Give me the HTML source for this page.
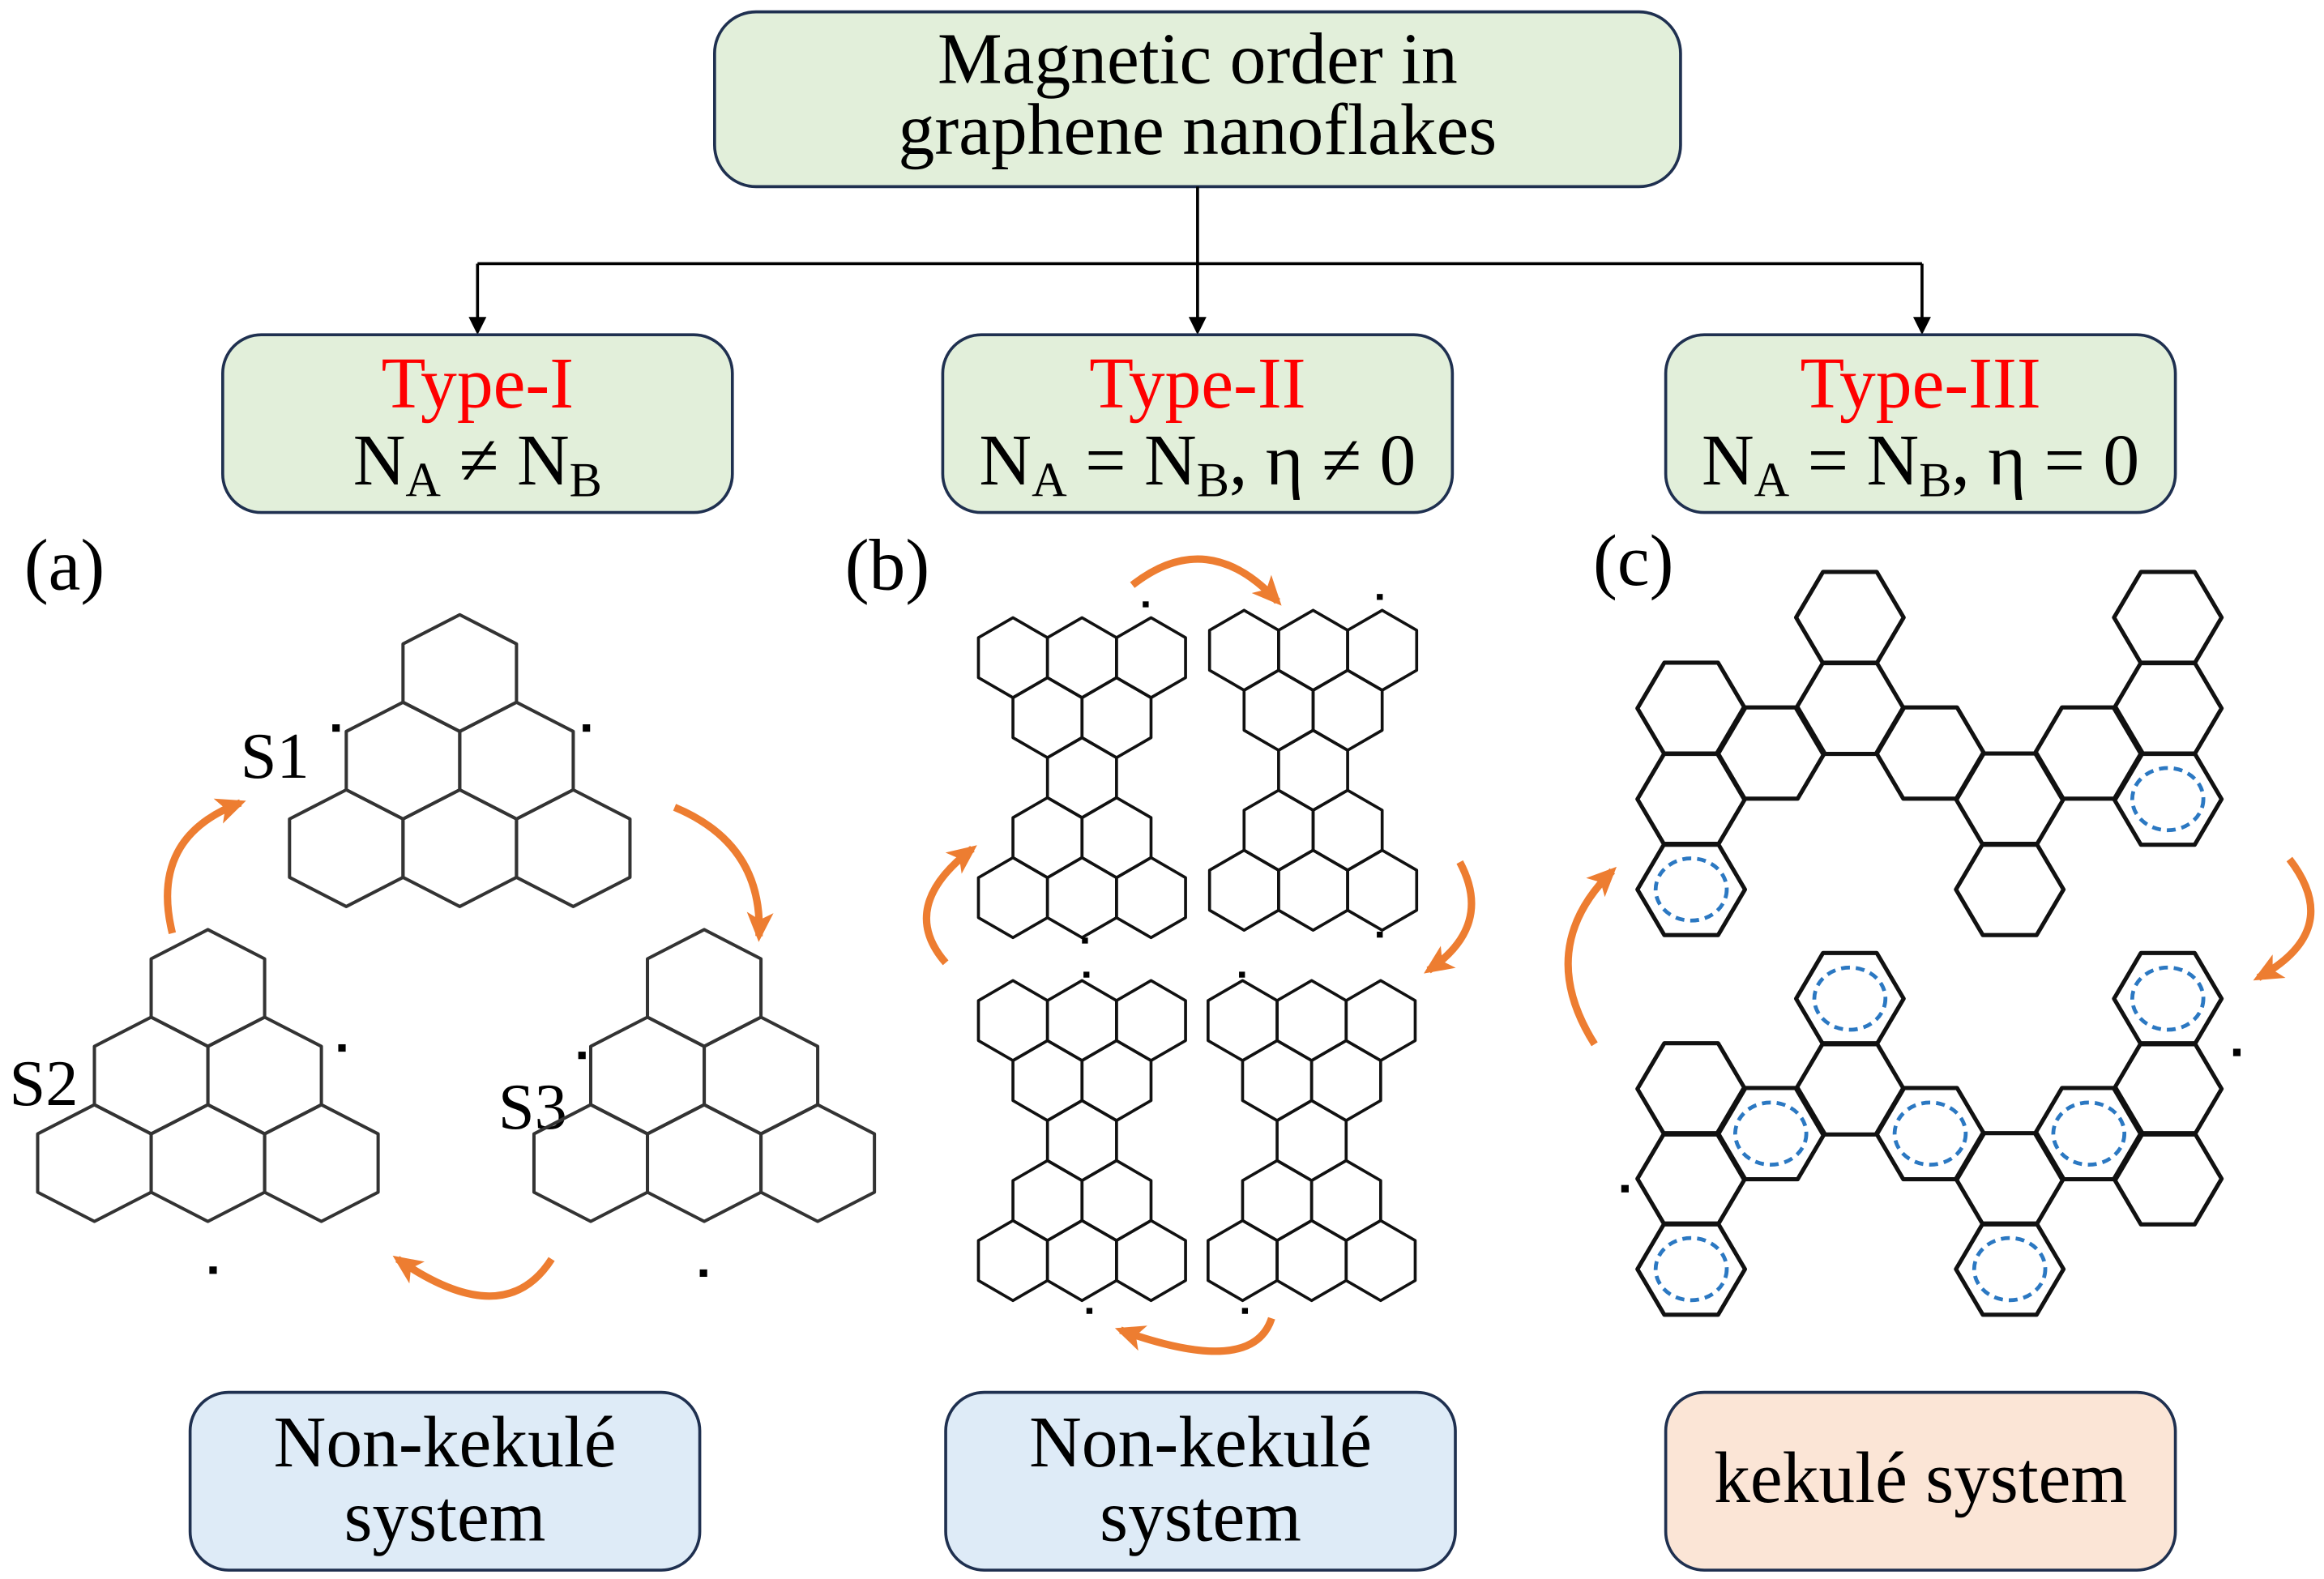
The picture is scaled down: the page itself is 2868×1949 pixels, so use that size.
<!DOCTYPE html>
<html><head><meta charset="utf-8"><style>
html,body{margin:0;padding:0;background:#fff}
svg{display:block}
text{font-family:"Liberation Serif","Times New Roman",serif}
</style></head><body>
<svg width="2868" height="1949" viewBox="0 0 1568 1066" xmlns="http://www.w3.org/2000/svg">
<defs>
<polygon id="ha" points="0,-39.4 38.3,-19.7 38.3,19.7 0,39.4 -38.3,19.7 -38.3,-19.7" fill="none" stroke="#333" stroke-width="2.2" stroke-linejoin="round"/>
<polygon id="hb" points="0,-27 23.3,-13.5 23.3,13.5 0,27 -23.3,13.5 -23.3,-13.5" fill="none" stroke="#111" stroke-width="2" stroke-linejoin="round"/>
<polygon id="hc" points="36.3,0 18.15,30.8 -18.15,30.8 -36.3,0 -18.15,-30.8 18.15,-30.8" fill="none" stroke="#111" stroke-width="2.8" stroke-linejoin="round"/>
<ellipse id="cc" rx="24" ry="21" fill="none" stroke="#2b78c2" stroke-width="2.6" stroke-dasharray="6 4"/>
<marker id="oa" markerWidth="22" markerHeight="22" refX="16" refY="11" orient="auto" markerUnits="userSpaceOnUse"><path d="M0,2 L20,11 L0,20 L5,11 z" fill="#ed7d31"/></marker>
<g id="tri">
<use href="#ha" x="0" y="0"/><use href="#ha" x="-38.3" y="59.1"/><use href="#ha" x="38.3" y="59.1"/>
<use href="#ha" x="-76.6" y="118.2"/><use href="#ha" x="0" y="118.2"/><use href="#ha" x="76.6" y="118.2"/>
</g>
<g id="bow">
<use href="#hb" x="-46.6" y="-81"/><use href="#hb" x="0" y="-81"/><use href="#hb" x="46.6" y="-81"/>
<use href="#hb" x="-23.3" y="-40.5"/><use href="#hb" x="23.3" y="-40.5"/>
<use href="#hb" x="0" y="0"/>
<use href="#hb" x="-23.3" y="40.5"/><use href="#hb" x="23.3" y="40.5"/>
<use href="#hb" x="-46.6" y="81"/><use href="#hb" x="0" y="81"/><use href="#hb" x="46.6" y="81"/>
</g>
</defs>

<!-- top box -->
<rect x="482" y="8" width="652" height="118" rx="28" fill="#e2efda" stroke="#1f3050" stroke-width="2"/>
<text x="808" y="56" font-size="49" text-anchor="middle">Magnetic order in</text>
<text x="808" y="104" font-size="49" text-anchor="middle">graphene nanoflakes</text>

<path d="M808,126 V178 M322,178 H1297 M322,178 V216 M808,178 V216 M1297,178 V216" stroke="#000" stroke-width="2" fill="none"/>
<g fill="#000"><path d="M316,214 L328,214 L322,226 z"/><path d="M802,214 L814,214 L808,226 z"/><path d="M1291,214 L1303,214 L1297,226 z"/></g>

<g font-size="49">
<rect x="150" y="226" width="344" height="120" rx="26" fill="#e2efda" stroke="#1f3050" stroke-width="2"/>
<text x="322" y="275" text-anchor="middle" fill="#ff0000">Type-I</text>
<text x="322" y="327" text-anchor="middle">N<tspan font-size="33" dy="8">A</tspan><tspan dy="-8"> ≠ N</tspan><tspan font-size="33" dy="8">B</tspan></text>

<rect x="636" y="226" width="344" height="120" rx="26" fill="#e2efda" stroke="#1f3050" stroke-width="2"/>
<text x="808" y="275" text-anchor="middle" fill="#ff0000">Type-II</text>
<text x="808" y="327" text-anchor="middle">N<tspan font-size="33" dy="8">A</tspan><tspan dy="-8"> = N</tspan><tspan font-size="33" dy="8">B</tspan><tspan dy="-8">, η ≠ 0</tspan></text>

<rect x="1124" y="226" width="344" height="120" rx="26" fill="#e2efda" stroke="#1f3050" stroke-width="2"/>
<text x="1296" y="275" text-anchor="middle" fill="#ff0000">Type-III</text>
<text x="1296" y="327" text-anchor="middle">N<tspan font-size="33" dy="8">A</tspan><tspan dy="-8"> = N</tspan><tspan font-size="33" dy="8">B</tspan><tspan dy="-8">, η = 0</tspan></text>

<text x="16" y="398">(a)</text>
<text x="570" y="398">(b)</text>
<text x="1075" y="395">(c)</text>
<text x="162" y="525" font-size="44">S1</text>
<text x="6" y="746" font-size="44">S2</text>
<text x="336" y="762" font-size="44">S3</text>

<rect x="128" y="940" width="344" height="120" rx="26" fill="#deebf7" stroke="#1f3050" stroke-width="2"/>
<text x="300" y="990" text-anchor="middle">Non-kekulé</text>
<text x="300" y="1040" text-anchor="middle">system</text>
<rect x="638" y="940" width="344" height="120" rx="26" fill="#deebf7" stroke="#1f3050" stroke-width="2"/>
<text x="810" y="990" text-anchor="middle">Non-kekulé</text>
<text x="810" y="1040" text-anchor="middle">system</text>
<rect x="1124" y="940" width="344" height="120" rx="26" fill="#fbe5d6" stroke="#1f3050" stroke-width="2"/>
<text x="1296" y="1014" text-anchor="middle">kekulé system</text>
</g>

<!-- (a) molecules -->
<use href="#tri" x="310" y="454.4"/>
<use href="#tri" x="140" y="667"/>
<use href="#tri" x="475" y="667"/>
<g fill="#000"><rect x="224" y="489" width="5" height="5"/><rect x="393" y="489" width="5" height="5"/><rect x="228" y="705" width="5" height="5"/><rect x="141" y="855" width="5" height="5"/><rect x="390" y="710" width="5" height="5"/><rect x="472" y="857" width="5" height="5"/></g>
<g stroke="#ed7d31" stroke-width="5" fill="none">
<path d="M116,630 Q100,565 162,542" marker-end="url(#oa)"/>
<path d="M455,545 Q515,570 512,632" marker-end="url(#oa)"/>
<path d="M372,850 Q340,900 268,850" marker-end="url(#oa)"/>
</g>

<!-- (b) molecules -->
<use href="#bow" x="730" y="525"/>
<use href="#bow" x="886" y="520"/>
<use href="#bow" x="730" y="770"/>
<use href="#bow" x="885" y="770"/>
<g fill="#000"><rect x="771" y="406" width="4" height="4"/><rect x="929" y="401" width="4" height="4"/><rect x="730" y="633" width="4" height="4"/><rect x="929" y="629" width="4" height="4"/><rect x="731" y="656" width="4" height="4"/><rect x="836" y="656" width="4" height="4"/><rect x="733" y="883" width="4" height="4"/><rect x="838" y="883" width="4" height="4"/></g>
<g stroke="#ed7d31" stroke-width="5" fill="none">
<path d="M764,395 Q815,355 862,406" marker-end="url(#oa)"/>
<path d="M985,582 Q1008,625 964,655" marker-end="url(#oa)"/>
<path d="M858,890 Q845,930 756,898" marker-end="url(#oa)"/>
<path d="M638,650 Q605,612 656,573" marker-end="url(#oa)"/>
</g>

<!-- (c) molecules -->
<g>
<use href="#hc" x="1248.3" y="416.9"/><use href="#hc" x="1462.9" y="416.9"/>
<use href="#hc" x="1141.2" y="478.2"/><use href="#hc" x="1141.2" y="539.5"/><use href="#hc" x="1141.2" y="600.5"/>
<use href="#hc" x="1194.9" y="508.4"/><use href="#hc" x="1248.3" y="478.2"/><use href="#hc" x="1302.5" y="508.4"/>
<use href="#hc" x="1356.2" y="539.5"/><use href="#hc" x="1356.2" y="600.5"/><use href="#hc" x="1409.6" y="508.4"/>
<use href="#hc" x="1462.9" y="478.2"/><use href="#hc" x="1462.9" y="539.5"/>
<use href="#cc" x="1141.2" y="600.5"/><use href="#cc" x="1462.9" y="539.5"/>

<use href="#hc" x="1248.3" y="674.2"/><use href="#hc" x="1462.9" y="674.2"/>
<use href="#hc" x="1141.2" y="735.1"/><use href="#hc" x="1141.2" y="795.8"/><use href="#hc" x="1141.2" y="856.8"/>
<use href="#hc" x="1194.9" y="765.3"/><use href="#hc" x="1248.3" y="735.1"/><use href="#hc" x="1302.5" y="765.3"/>
<use href="#hc" x="1356.2" y="795.8"/><use href="#hc" x="1356.2" y="856.8"/><use href="#hc" x="1409.6" y="765.3"/>
<use href="#hc" x="1462.9" y="735.1"/><use href="#hc" x="1462.9" y="795.8"/>
<use href="#cc" x="1248.3" y="674.2"/><use href="#cc" x="1462.9" y="674.2"/><use href="#cc" x="1141.2" y="856.8"/><use href="#cc" x="1194.9" y="765.3"/><use href="#cc" x="1302.5" y="765.3"/><use href="#cc" x="1356.2" y="856.8"/><use href="#cc" x="1409.6" y="765.3"/>
</g>
<g fill="#000"><rect x="1507" y="708" width="5" height="5"/><rect x="1094" y="800" width="5" height="5"/></g>
<g stroke="#ed7d31" stroke-width="5" fill="none">
<path d="M1076,705 Q1035,640 1088,588" marker-end="url(#oa)"/>
<path d="M1545,580 Q1582,628 1524,660" marker-end="url(#oa)"/>
</g>
</svg>
</body></html>
